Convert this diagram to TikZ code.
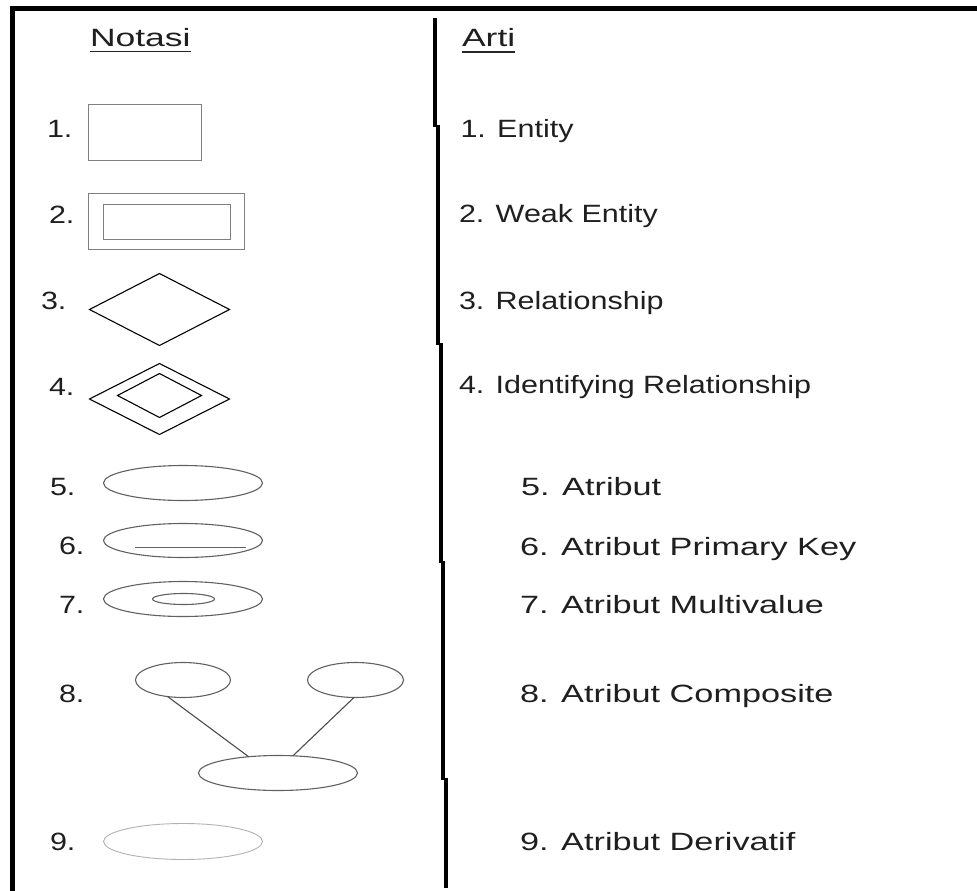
\documentclass[tikz,border=0pt]{standalone}
\usepackage{fontspec}
\setmainfont{Liberation Sans}
\usetikzlibrary{shapes.geometric}
\newcommand\sx[2]{\scalebox{#1}[1]{#2}}
\begin{document}
\begin{tikzpicture}[x=1pt,y=-1pt,
  txt/.style={anchor=base west,inner sep=0pt,outer sep=0pt,font=\fontsize{25}{30}\selectfont,text=black!88},
  border/.style={line width=5pt,black},
  divider/.style={line width=4pt,black},
  ent/.style={draw=black!50,line width=1.2pt,rectangle,inner sep=0pt,outer sep=0pt},
  rel/.style={draw=black,line width=1.1pt,diamond,inner sep=0pt,outer sep=0pt},
  attr/.style={draw=black!62,line width=1.1pt,ellipse,inner sep=0pt,outer sep=0pt},
  derived/.style={draw=black!30,line width=0.9pt,ellipse,inner sep=0pt,outer sep=0pt},
  link/.style={draw=black!70,line width=1.1pt},
  uline/.style={line width=1.5pt,black!85}
]
\useasboundingbox (0,0) rectangle (977,891);
\fill[white] (0,0) rectangle (977,891);
% frame
\draw[border] (10,9) -- (977,9);
\draw[border] (12.5,6.5) -- (12.5,891);
% divider
\draw[divider] (435,18) -- (435,127);
\draw[divider] (437.5,125) -- (437.5,345);
\draw[divider] (441,343) -- (441,563);
\draw[divider] (443,561) -- (443,780);
\draw[divider] (446,778) -- (446,888);
% headers
\node[txt] (notasi) at (90,47) {\sx{1.42}{Notasi}};
\node[txt] (arti) at (462,47) {\sx{1.42}{Arti}};
\draw[uline] ([yshift=-4.5pt]notasi.base west) -- ([yshift=-4.5pt]notasi.base east);
\draw[uline] ([yshift=-5pt]arti.base west) -- ([yshift=-5pt]arti.base east);
% numbers
\node[txt] (n1) at (47,137) {\sx{1.22}{1.}};
\node[txt] (n2) at (49,223) {\sx{1.22}{2.}};
\node[txt] (n3) at (41,309) {\sx{1.22}{3.}};
\node[txt] (n4) at (49,395) {\sx{1.22}{4.}};
\node[txt] (n5) at (50,495) {\sx{1.22}{5.}};
\node[txt] (n6) at (59,554) {\sx{1.22}{6.}};
\node[txt] (n7) at (59,613) {\sx{1.22}{7.}};
\node[txt] (n8) at (59,702) {\sx{1.22}{8.}};
\node[txt] (n9) at (50,850) {\sx{1.22}{9.}};
% shapes
\node[ent,minimum width=113pt,minimum height=56pt] (e1) at (145,132.5) {};
\node[ent,minimum width=156pt,minimum height=56pt] (e2o) at (166.5,221.5) {};
\node[ent,minimum width=127pt,minimum height=35pt] (e2i) at (167,222) {};
\node[rel,minimum width=140pt,minimum height=72pt] (d3) at (159.5,309.5) {};
\node[rel,minimum width=140pt,minimum height=71pt] (d4o) at (159.5,399) {};
\node[rel,minimum width=84pt,minimum height=44pt] (d4i) at (159.5,395.5) {};
\node[attr,minimum width=159pt,minimum height=35pt] (a5) at (183,483) {};
\node[attr,minimum width=159pt,minimum height=34pt] (a6) at (183,540.5) {};
\draw[attr] ([xshift=-48pt,yshift=-7pt]a6.center) -- ([xshift=63pt,yshift=-7pt]a6.center);
\node[attr,minimum width=159pt,minimum height=35pt] (a7o) at (183,599) {};
\node[attr,minimum width=62pt,minimum height=11pt] (a7i) at (183.5,599) {};
\node[attr,minimum width=95pt,minimum height=35pt] (c1) at (183,680) {};
\node[attr,minimum width=96pt,minimum height=35pt] (c2) at (355.5,680) {};
\node[attr,minimum width=159pt,minimum height=35pt] (c0) at (278,773) {};
\draw[link] (c1.227) -- (c0.151);
\draw[link] (c2.265) -- (c0.49);
\node[derived,minimum width=159pt,minimum height=36pt] (a9) at (183,841.5) {};
% meanings
\node[txt] (r1) at (460.5,137) {\sx{1.22}{1. Entity}};
\node[txt] (r2) at (459,222) {\sx{1.22}{2. Weak Entity}};
\node[txt] (r3) at (459,309) {\sx{1.22}{3. Relationship}};
\node[txt] (r4) at (459,393) {\sx{1.22}{4. Identifying Relationship}};
\node[txt] (r5) at (521,495) {\sx{1.37}{5. Atribut}};
\node[txt] (r6) at (520,555) {\sx{1.37}{6. Atribut Primary Key}};
\node[txt] (r7) at (520,613) {\sx{1.37}{7. Atribut Multivalue}};
\node[txt] (r8) at (520,702) {\sx{1.37}{8. Atribut Composite}};
\node[txt] (r9) at (520,850) {\sx{1.37}{9. Atribut Derivatif}};
\end{tikzpicture}
\end{document}
